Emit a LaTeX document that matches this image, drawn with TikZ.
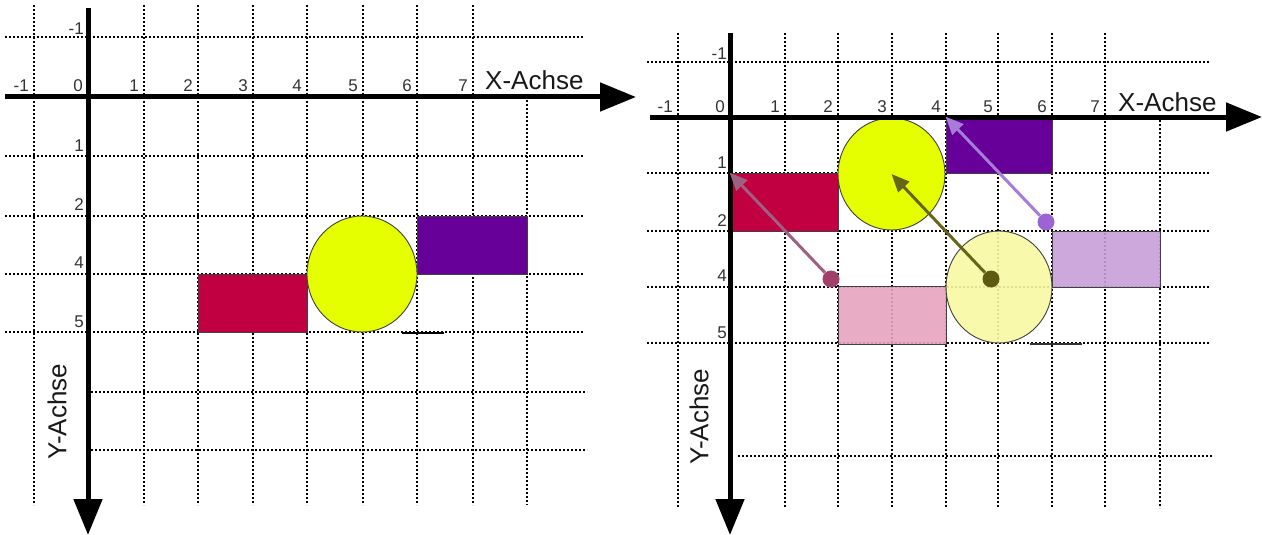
\documentclass[tikz,border=0pt]{standalone}
\usepackage{fontspec}
\setmainfont{Liberation Sans}
\usepackage{tikz}
\usetikzlibrary{arrows.meta, shapes.geometric}

\begin{document}
\begin{tikzpicture}[
  x=1pt, y=-1pt,
  raster/.style={line width=1.6pt, dash pattern=on 1.8pt off 2.2pt, black},
  achse/.style={line width=5pt, -{Triangle[length=36pt,width=28pt]}},
  feld/.style={draw=black!75, line width=0.9pt, inner sep=0pt, minimum width=108pt,
               minimum height=58pt},
  kreis/.style={ellipse, draw=black!75, line width=0.9pt, inner sep=0pt,
                minimum width=108pt, minimum height=114pt},
  zahl/.style={font=\fontsize{17}{17}\selectfont, text=black!80, inner sep=0pt,
               anchor=base east},
  titel/.style={font=\fontsize{26}{26}\selectfont, text=black!90, inner sep=0pt},
  punkt/.style={circle, inner sep=0pt, minimum size=17pt},
  pfeil/.style={line width=3pt, -{Triangle[length=18pt,width=15pt]}},
]
\definecolor{crot}{HTML}{C00040}
\definecolor{clila}{HTML}{660099}
\definecolor{cgelb}{HTML}{E6FF00}
\definecolor{crosa}{HTML}{E6A4BE}
\definecolor{cgelbblass}{HTML}{F9F9A2}
\definecolor{clilablass}{HTML}{C79FD9}
\definecolor{cpfeilrot}{HTML}{9F5F80}
\definecolor{cpunktrot}{HTML}{A0406B}
\definecolor{cpfeiloliv}{HTML}{66661A}
\definecolor{cpunktoliv}{HTML}{5E5A10}
\definecolor{cpfeillila}{HTML}{A57CD8}
\definecolor{cpunktlila}{HTML}{9C63D2}
\useasboundingbox[fill=white] (0,0) rectangle (1262,535);
% Raster links
\foreach \gx in {34,144,198,253,307,363,417,473} \draw[raster] (\gx,5) -- (\gx,505);
\draw[raster] (527,100) -- (527,505);
\foreach \gy in {37,156,216,274,332} \draw[raster] (5,\gy) -- (583,\gy);
\foreach \gy in {392,450} \draw[raster] (91,\gy) -- (587,\gy);
% Raster rechts
\foreach \gx in {678,785,838,892,946,998,1052,1105} \draw[raster] (\gx,33) -- (\gx,508);
\draw[raster] (1160,120) -- (1160,508);
\foreach \gy in {62,173,231,287,343} \draw[raster] (647,\gy) -- (1210,\gy);
\draw[raster] (738,456) -- (1212,456);
% verschobene Figuren rechts (halb durchsichtig)
\node[feld,fill=crosa,fill opacity=0.9] (rosaR) at (892,315) {};
\node[kreis,fill=cgelbblass,fill opacity=0.9,minimum width=106pt,minimum height=112pt] (kreisBlassR) at (999,287) {};
\node[feld,fill=clilablass,fill opacity=0.9,minimum height=56pt] (lilaBlassR) at (1106,259) {};
% Figuren links
\node[feld,fill=crot,minimum width=109pt] (rotL) at (252.5,303) {};
\node[kreis,fill=cgelb,minimum width=110pt,minimum height=116pt] (kreisL) at (362,274) {};
\node[feld,fill=clila,minimum width=110pt] (lilaL) at (472,245) {};
\draw[line width=2.5pt] (402,333) -- (444,333);
% Figuren rechts
\node[feld,fill=crot] (rotR) at (784,202) {};
\node[kreis,fill=cgelb,minimum width=107pt,minimum height=112pt] (kreisR) at (891.5,174) {};
\node[feld,fill=clila,minimum width=106pt,minimum height=56pt] (lilaR) at (999,145) {};
\draw[line width=2pt, black!80] (1030,343.5) -- (1082,343.5);
% Achsen
\draw[achse] (5,97) -- (636,97);
\draw[achse] (88,8) -- (88,535);
\draw[achse] (650,117) -- (1262,117);
\draw[achse] (730,33) -- (730,535);
% Beschriftung links
\foreach \gx/\z [count=\i] in {34/-1,88/0,144/1,198/2,253/3,307/4,363/5,417/6,473/7}
  \node[zahl] (lx\i) at (\gx-5,92) {\z};
\foreach \gy/\z [count=\i] in {35/-1,151/1,210/2,268/4,327/5}
  \node[zahl] (ly\i) at (84,\gy) {\z};
\node[titel,anchor=base west] (lxt) at (485,90) {X-Achse};
\node[titel,rotate=90] (lyt) at (57,412) {Y-Achse};
% Beschriftung rechts
\foreach \gx/\z [count=\i] in {678/-1,730/0,785/1,838/2,892/3,946/4,998/5,1052/6,1105/7}
  \node[zahl] (rx\i) at (\gx-5,113) {\z};
\foreach \gy/\z [count=\i] in {60/-1,168/1,226/2,281/4,338/5}
  \node[zahl] (ry\i) at (727,\gy) {\z};
\node[titel,anchor=base west] (rxt) at (1118,111) {X-Achse};
\node[titel,rotate=90] (ryt) at (699,417) {Y-Achse};
% Verschiebungspfeile
\node[punkt,fill=cpunktrot] (pRot) at (831,279) {};
\node[punkt,fill=cpunktoliv] (pOliv) at (991,279) {};
\node[punkt,fill=cpunktlila] (pLila) at (1046,222) {};
\draw[pfeil,cpfeilrot] (pRot) -- (rotR.north west);
\draw[pfeil,cpfeiloliv] (pOliv) -- (kreisR.center);
\draw[pfeil,cpfeillila] (pLila) -- (lilaR.north west);
\end{tikzpicture}
\end{document}
